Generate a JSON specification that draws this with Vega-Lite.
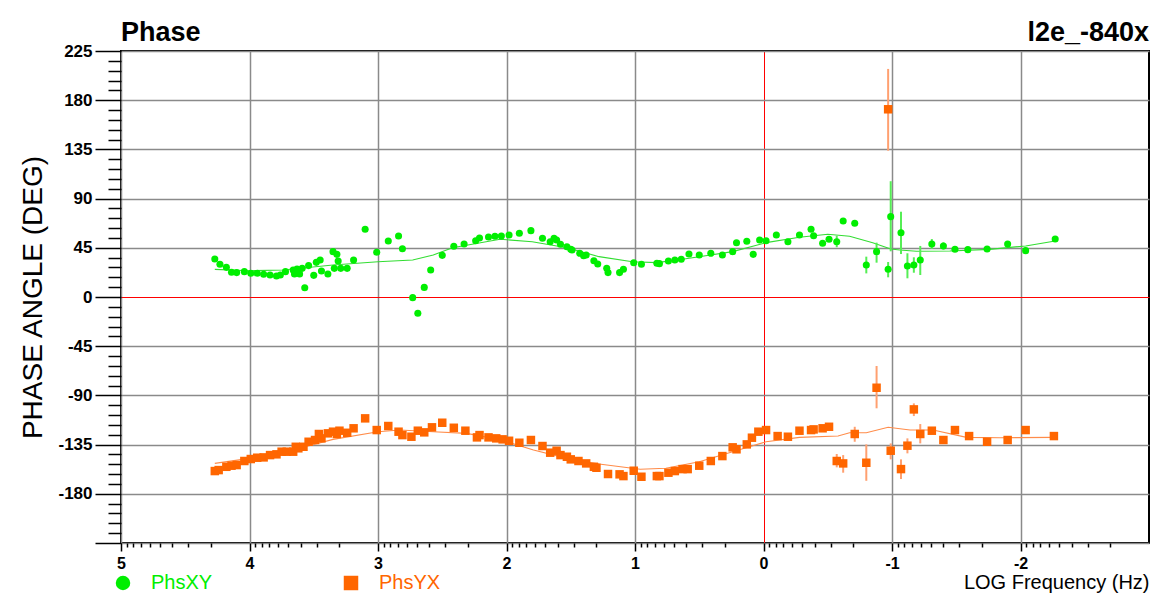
{
  "$schema": "https://vega.github.io/schema/vega-lite/v6.json",
  "width": 1028,
  "height": 492,
  "autosize": {"type": "none"},
  "padding": {"left": 121, "top": 51, "right": 12, "bottom": 58},
  "background": "white",
  "config": {"font": "Liberation Sans", "view": {"stroke": "black", "strokeWidth": 2}},
  "datasets": {
    "pts": [
      {"s": "PhsXY", "x": 4.27, "y": 34.8}, {"s": "PhsXY", "x": 4.23, "y": 29.9}, {"s": "PhsXY", "x": 4.18, "y": 27.1}, {"s": "PhsXY", "x": 4.14, "y": 22.6}, {"s": "PhsXY", "x": 4.10, "y": 22.3}, {"s": "PhsXY", "x": 4.04, "y": 23.2}, {"s": "PhsXY", "x": 3.99, "y": 21.7}, {"s": "PhsXY", "x": 3.94, "y": 21.7}, {"s": "PhsXY", "x": 3.89, "y": 20.8}, {"s": "PhsXY", "x": 3.84, "y": 20.1}, {"s": "PhsXY", "x": 3.79, "y": 19.2}, {"s": "PhsXY", "x": 3.76, "y": 20.1}, {"s": "PhsXY", "x": 3.72, "y": 23.2}, {"s": "PhsXY", "x": 3.66, "y": 24.7}, {"s": "PhsXY", "x": 3.65, "y": 21.0}, {"s": "PhsXY", "x": 3.63, "y": 25.6}, {"s": "PhsXY", "x": 3.61, "y": 21.0}, {"s": "PhsXY", "x": 3.59, "y": 26.2}, {"s": "PhsXY", "x": 3.57, "y": 8.5}, {"s": "PhsXY", "x": 3.54, "y": 28.7}, {"s": "PhsXY", "x": 3.50, "y": 19.8}, {"s": "PhsXY", "x": 3.48, "y": 31.7}, {"s": "PhsXY", "x": 3.45, "y": 33.9}, {"s": "PhsXY", "x": 3.44, "y": 23.8}, {"s": "PhsXY", "x": 3.39, "y": 21.0}, {"s": "PhsXY", "x": 3.35, "y": 41.5}, {"s": "PhsXY", "x": 3.34, "y": 26.2}, {"s": "PhsXY", "x": 3.32, "y": 39.0}, {"s": "PhsXY", "x": 3.31, "y": 32.9}, {"s": "PhsXY", "x": 3.29, "y": 26.2}, {"s": "PhsXY", "x": 3.24, "y": 26.2}, {"s": "PhsXY", "x": 3.19, "y": 33.9}, {"s": "PhsXY", "x": 3.10, "y": 61.9}, {"s": "PhsXY", "x": 3.01, "y": 40.9}, {"s": "PhsXY", "x": 2.92, "y": 51.2}, {"s": "PhsXY", "x": 2.84, "y": 55.8}, {"s": "PhsXY", "x": 2.81, "y": 44.2}, {"s": "PhsXY", "x": 2.73, "y": -0.6}, {"s": "PhsXY", "x": 2.69, "y": -14.9}, {"s": "PhsXY", "x": 2.64, "y": 8.8}, {"s": "PhsXY", "x": 2.59, "y": 24.7}, {"s": "PhsXY", "x": 2.50, "y": 38.1}, {"s": "PhsXY", "x": 2.41, "y": 46.4}, {"s": "PhsXY", "x": 2.33, "y": 48.5}, {"s": "PhsXY", "x": 2.24, "y": 51.5}, {"s": "PhsXY", "x": 2.21, "y": 54.0}, {"s": "PhsXY", "x": 2.14, "y": 54.9}, {"s": "PhsXY", "x": 2.09, "y": 55.5}, {"s": "PhsXY", "x": 2.04, "y": 55.8}, {"s": "PhsXY", "x": 1.98, "y": 56.7}, {"s": "PhsXY", "x": 1.90, "y": 58.3}, {"s": "PhsXY", "x": 1.81, "y": 60.7}, {"s": "PhsXY", "x": 1.72, "y": 53.7}, {"s": "PhsXY", "x": 1.66, "y": 50.6}, {"s": "PhsXY", "x": 1.63, "y": 53.7}, {"s": "PhsXY", "x": 1.61, "y": 52.2}, {"s": "PhsXY", "x": 1.58, "y": 48.2}, {"s": "PhsXY", "x": 1.53, "y": 46.0}, {"s": "PhsXY", "x": 1.50, "y": 43.6}, {"s": "PhsXY", "x": 1.49, "y": 43.0}, {"s": "PhsXY", "x": 1.43, "y": 40.0}, {"s": "PhsXY", "x": 1.40, "y": 37.8}, {"s": "PhsXY", "x": 1.38, "y": 38.4}, {"s": "PhsXY", "x": 1.32, "y": 33.2}, {"s": "PhsXY", "x": 1.29, "y": 30.2}, {"s": "PhsXY", "x": 1.22, "y": 26.2}, {"s": "PhsXY", "x": 1.21, "y": 22.3}, {"s": "PhsXY", "x": 1.12, "y": 22.3}, {"s": "PhsXY", "x": 1.09, "y": 25.3}, {"s": "PhsXY", "x": 1.01, "y": 31.4}, {"s": "PhsXY", "x": 0.95, "y": 29.9}, {"s": "PhsXY", "x": 0.83, "y": 30.8}, {"s": "PhsXY", "x": 0.81, "y": 30.5}, {"s": "PhsXY", "x": 0.74, "y": 32.9}, {"s": "PhsXY", "x": 0.69, "y": 33.9}, {"s": "PhsXY", "x": 0.64, "y": 34.5}, {"s": "PhsXY", "x": 0.58, "y": 39.3}, {"s": "PhsXY", "x": 0.50, "y": 38.4}, {"s": "PhsXY", "x": 0.41, "y": 40.0}, {"s": "PhsXY", "x": 0.32, "y": 38.4}, {"s": "PhsXY", "x": 0.24, "y": 41.5}, {"s": "PhsXY", "x": 0.21, "y": 49.7}, {"s": "PhsXY", "x": 0.13, "y": 51.0}, {"s": "PhsXY", "x": 0.08, "y": 39.0}, {"s": "PhsXY", "x": 0.03, "y": 52.2}, {"s": "PhsXY", "x": -0.02, "y": 51.5}, {"s": "PhsXY", "x": -0.10, "y": 56.7}, {"s": "PhsXY", "x": -0.19, "y": 50.6}, {"s": "PhsXY", "x": -0.28, "y": 56.7}, {"s": "PhsXY", "x": -0.37, "y": 61.9}, {"s": "PhsXY", "x": -0.39, "y": 56.1}, {"s": "PhsXY", "x": -0.46, "y": 49.1}, {"s": "PhsXY", "x": -0.51, "y": 52.8},
      {"s": "PhsXY", "x": -0.57, "y": 50.6, "lo": 45.5, "hi": 56.0}, {"s": "PhsXY", "x": -0.62, "y": 69.5}, {"s": "PhsXY", "x": -0.71, "y": 67.4},
      {"s": "PhsXY", "x": -0.80, "y": 29.3, "lo": 21.6, "hi": 36.9}, {"s": "PhsXY", "x": -0.88, "y": 41.5, "lo": 31.4, "hi": 49.7}, {"s": "PhsXY", "x": -0.97, "y": 25.3, "lo": 18.0, "hi": 32.0}, {"s": "PhsXY", "x": -0.99, "y": 73.5, "lo": 41.8, "hi": 105.9}, {"s": "PhsXY", "x": -1.07, "y": 58.8, "lo": 39.3, "hi": 78.0}, {"s": "PhsXY", "x": -1.12, "y": 28.4, "lo": 17.1, "hi": 40.0}, {"s": "PhsXY", "x": -1.17, "y": 29.3, "lo": 22.2, "hi": 36.3}, {"s": "PhsXY", "x": -1.22, "y": 33.9, "lo": 20.1, "hi": 46.7}, {"s": "PhsXY", "x": -1.31, "y": 48.5, "lo": 44.0, "hi": 53.0}, {"s": "PhsXY", "x": -1.40, "y": 46.7, "lo": 43.5, "hi": 50.0},
      {"s": "PhsXY", "x": -1.49, "y": 43.6}, {"s": "PhsXY", "x": -1.59, "y": 43.3}, {"s": "PhsXY", "x": -1.74, "y": 43.9}, {"s": "PhsXY", "x": -1.90, "y": 48.5}, {"s": "PhsXY", "x": -2.04, "y": 42.4}, {"s": "PhsXY", "x": -2.27, "y": 53.1},

      {"s": "PhsYX", "x": 4.27, "y": -159.2}, {"s": "PhsYX", "x": 4.24, "y": -158.3}, {"s": "PhsYX", "x": 4.18, "y": -155.3}, {"s": "PhsYX", "x": 4.14, "y": -154.3}, {"s": "PhsYX", "x": 4.10, "y": -153.7}, {"s": "PhsYX", "x": 4.04, "y": -150.0}, {"s": "PhsYX", "x": 3.99, "y": -148.2}, {"s": "PhsYX", "x": 3.94, "y": -147.0}, {"s": "PhsYX", "x": 3.89, "y": -146.7}, {"s": "PhsYX", "x": 3.84, "y": -144.6}, {"s": "PhsYX", "x": 3.79, "y": -143.9}, {"s": "PhsYX", "x": 3.75, "y": -141.5}, {"s": "PhsYX", "x": 3.71, "y": -141.5}, {"s": "PhsYX", "x": 3.66, "y": -141.5}, {"s": "PhsYX", "x": 3.64, "y": -137.0}, {"s": "PhsYX", "x": 3.62, "y": -138.4}, {"s": "PhsYX", "x": 3.58, "y": -137.0}, {"s": "PhsYX", "x": 3.54, "y": -132.4}, {"s": "PhsYX", "x": 3.49, "y": -130.8}, {"s": "PhsYX", "x": 3.46, "y": -125.3}, {"s": "PhsYX", "x": 3.44, "y": -129.3}, {"s": "PhsYX", "x": 3.39, "y": -124.7}, {"s": "PhsYX", "x": 3.35, "y": -123.2}, {"s": "PhsYX", "x": 3.32, "y": -125.3}, {"s": "PhsYX", "x": 3.30, "y": -122.3}, {"s": "PhsYX", "x": 3.24, "y": -124.2}, {"s": "PhsYX", "x": 3.19, "y": -120.1}, {"s": "PhsYX", "x": 3.10, "y": -111.0}, {"s": "PhsYX", "x": 3.01, "y": -121.7}, {"s": "PhsYX", "x": 2.92, "y": -118.0}, {"s": "PhsYX", "x": 2.84, "y": -123.2}, {"s": "PhsYX", "x": 2.81, "y": -126.3}, {"s": "PhsYX", "x": 2.74, "y": -127.8}, {"s": "PhsYX", "x": 2.69, "y": -122.3}, {"s": "PhsYX", "x": 2.64, "y": -123.8}, {"s": "PhsYX", "x": 2.58, "y": -119.2}, {"s": "PhsYX", "x": 2.50, "y": -115.0}, {"s": "PhsYX", "x": 2.41, "y": -119.6}, {"s": "PhsYX", "x": 2.32, "y": -122.3}, {"s": "PhsYX", "x": 2.23, "y": -128.4}, {"s": "PhsYX", "x": 2.21, "y": -126.3}, {"s": "PhsYX", "x": 2.14, "y": -128.4}, {"s": "PhsYX", "x": 2.08, "y": -129.3}, {"s": "PhsYX", "x": 2.03, "y": -130.2}, {"s": "PhsYX", "x": 1.98, "y": -131.5}, {"s": "PhsYX", "x": 1.90, "y": -133.3}, {"s": "PhsYX", "x": 1.81, "y": -130.8}, {"s": "PhsYX", "x": 1.72, "y": -136.3}, {"s": "PhsYX", "x": 1.66, "y": -142.4}, {"s": "PhsYX", "x": 1.61, "y": -140.6}, {"s": "PhsYX", "x": 1.58, "y": -144.6}, {"s": "PhsYX", "x": 1.53, "y": -146.1}, {"s": "PhsYX", "x": 1.50, "y": -148.5}, {"s": "PhsYX", "x": 1.44, "y": -150.0}, {"s": "PhsYX", "x": 1.38, "y": -152.2}, {"s": "PhsYX", "x": 1.32, "y": -155.3}, {"s": "PhsYX", "x": 1.30, "y": -156.2}, {"s": "PhsYX", "x": 1.21, "y": -161.9}, {"s": "PhsYX", "x": 1.12, "y": -162.2}, {"s": "PhsYX", "x": 1.09, "y": -163.8}, {"s": "PhsYX", "x": 1.01, "y": -158.9}, {"s": "PhsYX", "x": 0.95, "y": -164.4}, {"s": "PhsYX", "x": 0.83, "y": -163.8}, {"s": "PhsYX", "x": 0.81, "y": -163.8}, {"s": "PhsYX", "x": 0.74, "y": -160.7}, {"s": "PhsYX", "x": 0.69, "y": -159.2}, {"s": "PhsYX", "x": 0.63, "y": -157.4}, {"s": "PhsYX", "x": 0.59, "y": -157.4}, {"s": "PhsYX", "x": 0.50, "y": -154.3}, {"s": "PhsYX", "x": 0.41, "y": -150.0}, {"s": "PhsYX", "x": 0.32, "y": -145.5}, {"s": "PhsYX", "x": 0.24, "y": -137.5}, {"s": "PhsYX", "x": 0.21, "y": -139.3}, {"s": "PhsYX", "x": 0.13, "y": -134.8}, {"s": "PhsYX", "x": 0.09, "y": -128.7}, {"s": "PhsYX", "x": 0.04, "y": -123.2}, {"s": "PhsYX", "x": -0.02, "y": -121.7}, {"s": "PhsYX", "x": -0.11, "y": -127.2}, {"s": "PhsYX", "x": -0.19, "y": -127.8}, {"s": "PhsYX", "x": -0.28, "y": -122.3}, {"s": "PhsYX", "x": -0.37, "y": -121.7}, {"s": "PhsYX", "x": -0.39, "y": -121.1}, {"s": "PhsYX", "x": -0.46, "y": -120.1}, {"s": "PhsYX", "x": -0.51, "y": -118.7},
      {"s": "PhsYX", "x": -0.57, "y": -150.0, "lo": -155.8, "hi": -143.6}, {"s": "PhsYX", "x": -0.62, "y": -152.2, "lo": -160.7, "hi": -144.6}, {"s": "PhsYX", "x": -0.71, "y": -125.3, "lo": -132.4, "hi": -118.7}, {"s": "PhsYX", "x": -0.80, "y": -151.6, "lo": -168.1, "hi": -134.8}, {"s": "PhsYX", "x": -0.88, "y": -83.0, "lo": -101.8, "hi": -63.1}, {"s": "PhsYX", "x": -0.97, "y": 171.7, "lo": 133.8, "hi": 208.6}, {"s": "PhsYX", "x": -0.99, "y": -140.6, "lo": -148.5, "hi": -133.9}, {"s": "PhsYX", "x": -1.07, "y": -157.4, "lo": -166.5, "hi": -148.5}, {"s": "PhsYX", "x": -1.12, "y": -136.0, "lo": -143.0, "hi": -129.3}, {"s": "PhsYX", "x": -1.17, "y": -102.8, "lo": -108.9, "hi": -97.3}, {"s": "PhsYX", "x": -1.22, "y": -125.3, "lo": -133.9, "hi": -116.2},
      {"s": "PhsYX", "x": -1.31, "y": -122.3}, {"s": "PhsYX", "x": -1.40, "y": -130.8}, {"s": "PhsYX", "x": -1.49, "y": -121.7}, {"s": "PhsYX", "x": -1.60, "y": -127.2}, {"s": "PhsYX", "x": -1.74, "y": -132.4}, {"s": "PhsYX", "x": -1.90, "y": -130.8}, {"s": "PhsYX", "x": -2.04, "y": -121.7}, {"s": "PhsYX", "x": -2.26, "y": -127.2}
    ],
    "fit": [
      {"s": "PhsXY", "x": 4.27, "y": 25.3}, {"s": "PhsXY", "x": 4.0, "y": 24.0}, {"s": "PhsXY", "x": 3.74, "y": 24.7}, {"s": "PhsXY", "x": 3.35, "y": 29.3}, {"s": "PhsXY", "x": 3.0, "y": 32.3}, {"s": "PhsXY", "x": 2.73, "y": 33.9}, {"s": "PhsXY", "x": 2.57, "y": 38.4}, {"s": "PhsXY", "x": 2.42, "y": 45.1}, {"s": "PhsXY", "x": 2.05, "y": 52.8}, {"s": "PhsXY", "x": 1.80, "y": 50.6}, {"s": "PhsXY", "x": 1.53, "y": 45.1}, {"s": "PhsXY", "x": 1.28, "y": 36.9}, {"s": "PhsXY", "x": 1.02, "y": 32.3}, {"s": "PhsXY", "x": 0.83, "y": 31.4}, {"s": "PhsXY", "x": 0.63, "y": 34.5}, {"s": "PhsXY", "x": 0.24, "y": 41.5}, {"s": "PhsXY", "x": -0.02, "y": 49.7}, {"s": "PhsXY", "x": -0.28, "y": 54.6}, {"s": "PhsXY", "x": -0.5, "y": 57.4}, {"s": "PhsXY", "x": -0.67, "y": 55.5}, {"s": "PhsXY", "x": -0.85, "y": 49.7}, {"s": "PhsXY", "x": -0.99, "y": 43.9}, {"s": "PhsXY", "x": -1.06, "y": 43.0}, {"s": "PhsXY", "x": -1.19, "y": 41.8}, {"s": "PhsXY", "x": -1.45, "y": 42.1}, {"s": "PhsXY", "x": -1.76, "y": 43.6}, {"s": "PhsXY", "x": -2.04, "y": 46.7}, {"s": "PhsXY", "x": -2.27, "y": 51.2},
      {"s": "PhsYX", "x": 4.27, "y": -152.2}, {"s": "PhsYX", "x": 4.0, "y": -147.6}, {"s": "PhsYX", "x": 3.61, "y": -138.4}, {"s": "PhsYX", "x": 3.35, "y": -130.2}, {"s": "PhsYX", "x": 3.0, "y": -123.2}, {"s": "PhsYX", "x": 2.83, "y": -121.7}, {"s": "PhsYX", "x": 2.57, "y": -123.2}, {"s": "PhsYX", "x": 2.31, "y": -124.7}, {"s": "PhsYX", "x": 2.05, "y": -130.5}, {"s": "PhsYX", "x": 1.79, "y": -140.0}, {"s": "PhsYX", "x": 1.53, "y": -147.6}, {"s": "PhsYX", "x": 1.28, "y": -152.8}, {"s": "PhsYX", "x": 0.96, "y": -157.6}, {"s": "PhsYX", "x": 0.76, "y": -156.7}, {"s": "PhsYX", "x": 0.50, "y": -150.7}, {"s": "PhsYX", "x": 0.24, "y": -141.5}, {"s": "PhsYX", "x": -0.02, "y": -132.4}, {"s": "PhsYX", "x": -0.28, "y": -128.4}, {"s": "PhsYX", "x": -0.58, "y": -127.2}, {"s": "PhsYX", "x": -0.67, "y": -124.2}, {"s": "PhsYX", "x": -0.80, "y": -124.2}, {"s": "PhsYX", "x": -0.97, "y": -119.2}, {"s": "PhsYX", "x": -1.14, "y": -121.7}, {"s": "PhsYX", "x": -1.32, "y": -121.7}, {"s": "PhsYX", "x": -1.58, "y": -128.4}, {"s": "PhsYX", "x": -1.84, "y": -128.7}, {"s": "PhsYX", "x": -2.26, "y": -128.4}
    ]
  },
  "layer": [
    {
      "data": {"name": "fit"},
      "transform": [{"filter": "datum.s === 'PhsXY'"}],
      "mark": {"type": "line", "strokeWidth": 1.1, "color": "#33dd33"},
      "encoding": {
        "x": {
          "field": "x", "type": "quantitative",
          "scale": {"domain": [-3, 5], "reverse": true, "nice": false, "zero": false},
          "axis": {
            "title": "LOG Frequency (Hz)",
            "values": [5, 4.954, 4.903, 4.845, 4.778, 4.699, 4.602, 4.477, 4.301, 4, 3.954, 3.903, 3.845, 3.778, 3.699, 3.602, 3.477, 3.301, 3, 2.954, 2.903, 2.845, 2.778, 2.699, 2.602, 2.477, 2.301, 2, 1.954, 1.903, 1.845, 1.778, 1.699, 1.602, 1.477, 1.301, 1, 0.954, 0.903, 0.845, 0.778, 0.699, 0.602, 0.477, 0.301, 0, -0.046, -0.097, -0.155, -0.222, -0.301, -0.398, -0.523, -0.699, -1, -1.046, -1.097, -1.155, -1.222, -1.301, -1.398, -1.523, -1.699, -2, -2.046, -2.097, -2.155, -2.222, -2.301, -2.398, -2.523, -2.699],
            "tickCount": 1000,
            "labelExpr": "datum.value === round(datum.value) ? '' + datum.value : ''",
            "labelFlush": false,
            "labelOverlap": false,
            "domain": false,
            "tickColor": "black",
            "tickWidth": 1.5,
            "tickSize": {"condition": {"test": "datum.value === round(datum.value)", "value": 8}, "value": 4},
            "grid": true,
            "gridColor": {"condition": {"test": "datum.value === 0", "value": "#ff0000"}, "value": "#8a8a8a"},
            "gridOpacity": {"condition": {"test": "datum.value === round(datum.value)", "value": 1}, "value": 0},
            "gridWidth": {"condition": {"test": "datum.value === 0", "value": 1}, "value": 1.5},
            "labelFont": "Liberation Sans", "labelFontWeight": "bold", "labelFontSize": 16, "labelColor": "black", "labelPadding": 4,
            "titleFont": "Liberation Sans", "titleFontSize": 20, "titleFontWeight": "normal", "titleAnchor": "start", "titleAlign": "right", "titleColor": "black", "titlePadding": 1
          }
        },
        "y": {
          "field": "y", "type": "quantitative",
          "scale": {"domain": [-225, 225], "nice": false, "zero": false},
          "axis": {
            "title": "PHASE ANGLE (DEG)",
            "values": [-225, -216, -207, -198, -189, -180, -171, -162, -153, -144, -135, -126, -117, -108, -99, -90, -81, -72, -63, -54, -45, -36, -27, -18, -9, 0, 9, 18, 27, 36, 45, 54, 63, 72, 81, 90, 99, 108, 117, 126, 135, 144, 153, 162, 171, 180, 189, 198, 207, 216, 225],
            "tickCount": 1000,
            "labelExpr": "(datum.value % 45 === 0 && datum.value > -225) ? '' + datum.value : ''",
            "labelOverlap": false,
            "domain": false,
            "tickColor": "black",
            "tickWidth": 1.5,
            "tickSize": {"condition": {"test": "datum.value % 45 === 0", "value": 26}, "value": 13},
            "grid": true,
            "gridColor": {"condition": {"test": "datum.value === 0", "value": "#ff0000"}, "value": "#8a8a8a"},
            "gridOpacity": {"condition": {"test": "datum.value % 45 === 0", "value": 1}, "value": 0},
            "gridWidth": {"condition": {"test": "datum.value === 0", "value": 1}, "value": 1.5},
            "labelFont": "Liberation Sans", "labelFontWeight": "bold", "labelFontSize": 17, "labelColor": "black", "labelPadding": 3,
            "titleFont": "Liberation Sans", "titleFontSize": 28, "titleFontWeight": "normal", "titleColor": "black", "titlePadding": 10
          }
        }
      }
    },
    {
      "data": {"name": "fit"},
      "transform": [{"filter": "datum.s === 'PhsYX'"}],
      "mark": {"type": "line", "strokeWidth": 1.1, "color": "#ff8c4a"},
      "encoding": {
        "x": {"field": "x", "type": "quantitative"},
        "y": {"field": "y", "type": "quantitative"}
      }
    },
    {
      "data": {"name": "pts"},
      "transform": [{"filter": "isValid(datum.lo) && datum.s === 'PhsXY'"}],
      "mark": {"type": "rule", "strokeWidth": 2, "color": "#55ee55"},
      "encoding": {
        "x": {"field": "x", "type": "quantitative"},
        "y": {"field": "lo", "type": "quantitative"},
        "y2": {"field": "hi"}
      }
    },
    {
      "data": {"name": "pts"},
      "transform": [{"filter": "isValid(datum.lo) && datum.s === 'PhsYX'"}],
      "mark": {"type": "rule", "strokeWidth": 2, "color": "#ffa070"},
      "encoding": {
        "x": {"field": "x", "type": "quantitative"},
        "y": {"field": "lo", "type": "quantitative"},
        "y2": {"field": "hi"}
      }
    },
    {
      "data": {"name": "pts"},
      "transform": [{"filter": "datum.s === 'PhsXY'"}],
      "mark": {"type": "point", "filled": true, "size": 50, "opacity": 1},
      "encoding": {
        "x": {"field": "x", "type": "quantitative"},
        "y": {"field": "y", "type": "quantitative"},
        "color": {"field": "s", "type": "nominal", "scale": {"domain": ["PhsXY", "PhsYX"], "range": ["#00ee00", "#ff6600"]},
          "legend": {
            "title": null, "orient": "none", "legendX": -8, "legendY": 522, "direction": "horizontal", "columns": 2,
            "symbolSize": 210, "symbolStrokeWidth": 0, "symbolOpacity": 1,
            "labelFont": "Liberation Sans", "labelFontSize": 20, "labelOffset": 18, "columnPadding": 128, "labelLimit": 300,
            "encode": {"labels": {"update": {"fill": {"signal": "datum.value === 'PhsXY' ? '#00ee00' : '#ff6600'"}}}}
          }},
        "shape": {"field": "s", "type": "nominal", "scale": {"domain": ["PhsXY", "PhsYX"], "range": ["circle", "square"]},
          "legend": {
            "title": null, "orient": "none", "legendX": -8, "legendY": 522, "direction": "horizontal", "columns": 2,
            "symbolSize": 210, "symbolStrokeWidth": 0, "symbolOpacity": 1,
            "labelFont": "Liberation Sans", "labelFontSize": 20, "labelOffset": 18, "columnPadding": 128, "labelLimit": 300,
            "encode": {"labels": {"update": {"fill": {"signal": "datum.value === 'PhsXY' ? '#00ee00' : '#ff6600'"}}}}
          }}
      }
    },
    {
      "data": {"name": "pts"},
      "transform": [{"filter": "datum.s === 'PhsYX'"}],
      "mark": {"type": "point", "filled": true, "size": 72, "opacity": 1},
      "encoding": {
        "x": {"field": "x", "type": "quantitative"},
        "y": {"field": "y", "type": "quantitative"},
        "color": {"field": "s", "type": "nominal"},
        "shape": {"field": "s", "type": "nominal"}
      }
    },
    {
      "data": {"values": [{"t": "Phase"}]},
      "mark": {"type": "text", "align": "left", "baseline": "alphabetic", "dy": -10, "fontSize": 27, "fontWeight": "bold", "font": "Liberation Sans", "color": "black"},
      "encoding": {
        "x": {"datum": 5, "type": "quantitative"},
        "y": {"datum": 225, "type": "quantitative"},
        "text": {"field": "t"}
      }
    },
    {
      "data": {"values": [{"t": "l2e_-840x"}]},
      "mark": {"type": "text", "align": "right", "baseline": "alphabetic", "dy": -10, "fontSize": 27, "fontWeight": "bold", "font": "Liberation Sans", "color": "black"},
      "encoding": {
        "x": {"datum": -3, "type": "quantitative"},
        "y": {"datum": 225, "type": "quantitative"},
        "text": {"field": "t"}
      }
    }
  ]
}
